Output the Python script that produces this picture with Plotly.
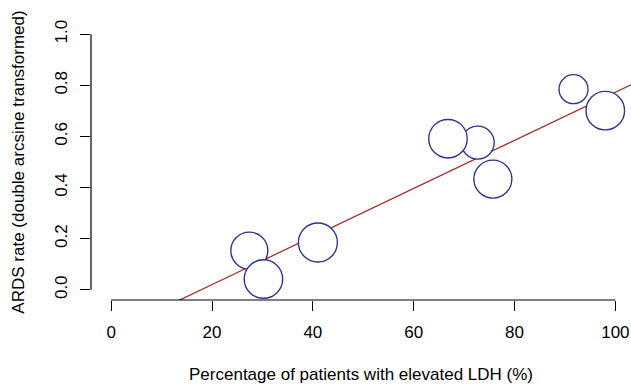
import plotly.graph_objects as go

# Data
pct_elevated_ldh = [27.4, 30.2, 41.0, 66.8, 72.7, 75.7, 91.7, 98.0]
ards_rate = [0.153, 0.042, 0.185, 0.591, 0.576, 0.433, 0.785, 0.701]
bubble_size = [37, 38.5, 39, 38.5, 33, 38, 29, 38.5]

reg_intercept = -0.168
reg_slope = 0.00941

x_ticks = [0, 20, 40, 60, 80, 100]
y_ticks = [0.0, 0.2, 0.4, 0.6, 0.8, 1.0]
y_tick_labels = ["0.0", "0.2", "0.4", "0.6", "0.8", "1.0"]

x_range = [-4, 103.1]
y_range = [-0.04, 1.04]

line_x = [x_range[0], x_range[1]]
line_y = [reg_intercept + reg_slope * v for v in line_x]

# draw smaller bubbles first so larger ones sit on top
order = sorted(range(len(bubble_size)), key=lambda i: bubble_size[i])

fig = go.Figure()
fig.add_trace(go.Scatter(
    x=line_x, y=line_y, mode="lines",
    line=dict(color="#A3302B", width=1.3),
    showlegend=False, hoverinfo="skip",
))
fig.add_trace(go.Scatter(
    x=[pct_elevated_ldh[i] for i in order],
    y=[ards_rate[i] for i in order],
    mode="markers",
    marker=dict(size=[bubble_size[i] for i in order], color="white",
                opacity=1,
                line=dict(color="#30308E", width=1.35)),
    showlegend=False,
))

font_family = "Liberation Sans, Arial, Helvetica, sans-serif"

fig.update_layout(
    width=631, height=384,
    margin=dict(l=90.5, r=0, t=24, b=84),
    plot_bgcolor="white", paper_bgcolor="white",
    font=dict(family=font_family, size=17, color="black"),
    xaxis=dict(
        range=x_range, tickvals=x_ticks, ticks="outside", ticklen=10,
        tickcolor="black", tickwidth=1, showgrid=False, zeroline=False,
        showline=False, ticklabelstandoff=7,
        title=dict(text="Percentage of patients with elevated LDH (%)",
                   standoff=26, font=dict(size=17)),
    ),
    yaxis=dict(
        range=y_range, tickvals=y_ticks, ticktext=y_tick_labels,
        ticks="outside", ticklen=10, tickangle=-90,
        tickcolor="black", tickwidth=1, showgrid=False, zeroline=False,
        showline=False, ticklabelstandoff=6,
        title=dict(text="ARDS rate (double arcsine transformed)",
                   standoff=23, font=dict(size=17)),
    ),
    shapes=[
        dict(type="line", xref="x", yref="paper", x0=0, x1=100, y0=0, y1=0,
             line=dict(color="black", width=1.2)),
        dict(type="line", xref="paper", yref="y", x0=0, x1=0, y0=0, y1=1,
             line=dict(color="black", width=1.2)),
    ],
)

fig.write_html("out.html")
